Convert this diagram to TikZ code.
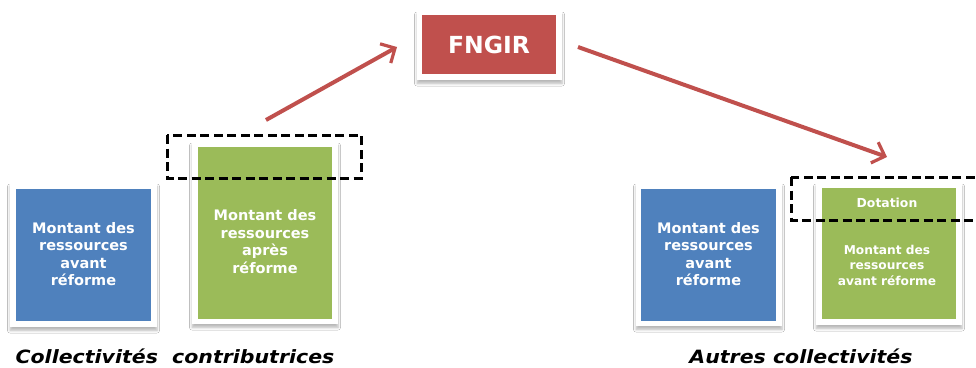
\documentclass[tikz,border=0pt]{standalone}
\usepackage{fontspec}
\setmainfont{DejaVu Sans}
\usetikzlibrary{shadows,shadows.blur,arrows.meta}
\definecolor{cblue}{HTML}{4F81BD}
\definecolor{cgreen}{HTML}{9BBB59}
\definecolor{cred}{HTML}{C0504D}
\tikzset{
  frame/.style={fill=white, draw=none, inner sep=0pt,
    blur shadow={shadow opacity=28, shadow xshift=0pt, shadow yshift=-3.5pt, shadow blur radius=2.5pt, shadow blur steps=6}},
  panel/.style={draw=none, inner sep=0pt, text=white, align=center, font=\bfseries\fontsize{14.5}{17.6}\selectfont},
  flow/.style={draw=cred, line width=4pt, -{Straight Barb[length=11pt,width=22pt,line width=3.2pt]}},
  dashbox/.style={draw=black, line width=3pt, dash pattern=on 9pt off 4.5pt},
  caption/.style={font=\bfseries\itshape\addfontfeatures{FakeStretch=1.12}\fontsize{18.3}{20}\selectfont, inner sep=0pt}
}
\begin{document}
\begin{tikzpicture}[x=1pt,y=-1pt]
\useasboundingbox (0,0) rectangle (976,367);
\fill[white] (0,0) rectangle (976,367);
\clip (0,0) rectangle (976,367);
% left blue
\node[frame, minimum width=147pt, minimum height=144pt] (lbf) at (83.5,255) {};
\node[panel, fill=cblue, minimum width=135pt, minimum height=132pt] (lb) at (83.5,255) {};
\node[panel] (lbt) at (83.5,254) {Montant des\\ressources\\avant\\réforme};
% left green
\node[frame, minimum width=146pt, minimum height=182pt] (lgf) at (265,233) {};
\node[panel, fill=cgreen, minimum width=134pt, minimum height=172pt] (lg) at (265,233) {};
\node[panel] (lgt) at (265,241.5) {Montant des\\ressources\\après\\réforme};
% right blue
\node[frame, minimum width=146pt, minimum height=143pt] (rbf) at (709,254.5) {};
\node[panel, fill=cblue, minimum width=135pt, minimum height=132pt] (rb) at (708.5,255) {};
\node[panel] (rbt) at (708.5,254) {Montant des\\ressources\\avant\\réforme};
% right green
\node[frame, minimum width=146pt, minimum height=142pt] (rgf) at (889,254) {};
\node[panel, fill=cgreen, minimum width=134pt, minimum height=131pt] (rg) at (889,253.5) {};
\node[panel, font=\bfseries\fontsize{12.4}{14}\selectfont] (dot) at (887,203) {Dotation};
\node[panel, font=\bfseries\fontsize{12.2}{15.5}\selectfont] (rgt) at (887,265) {Montant des\\ressources\\avant réforme};
% FNGIR
\node[frame, minimum width=145pt, minimum height=69pt] (ff) at (489.5,45.5) {};
\node[panel, fill=cred, minimum width=134pt, minimum height=59pt, font=\bfseries\fontsize{23.5}{26}\selectfont] (fn) at (489,44.5) {FNGIR};
% dashed boxes
\draw[dashbox] (167,135) rectangle (361,178);
\draw[dashbox] (791,177) rectangle (995,220);
% arrows
\coordinate (a1s) at (266,120);
\coordinate (a1e) at (397,47);
\coordinate (a2s) at (578,47);
\coordinate (a2e) at (887,157);
\draw[flow] (a1s) -- (a1e);
\draw[flow] (a2s) -- (a2e);
% captions
\node[caption, anchor=base] (c1) at (175,363) {Collectivités\ \ contributrices};
\node[caption, anchor=base] (c2) at (801,363) {Autres collectivités};
\end{tikzpicture}
\end{document}
